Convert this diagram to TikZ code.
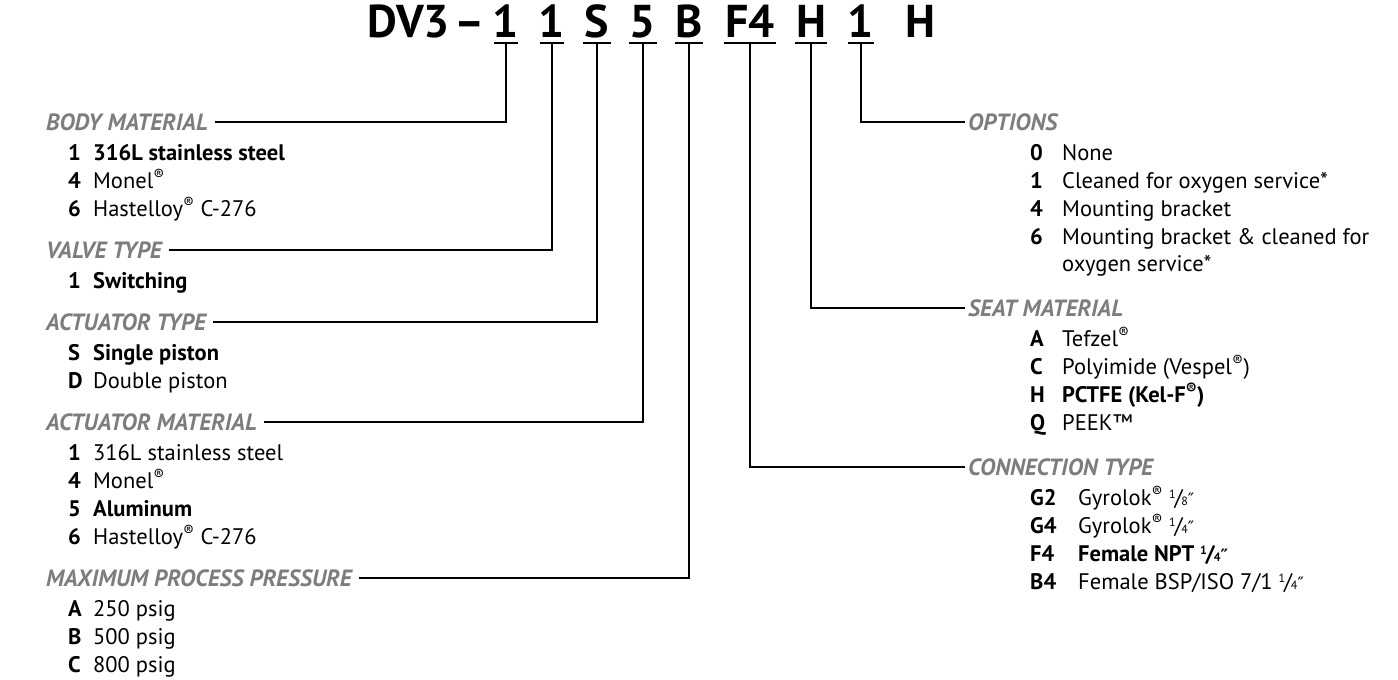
\documentclass[tikz,border=0pt]{standalone}
\usepackage{fontspec}
\setmainfont{PT Sans}
\newfontfamily\dvs{DejaVu Sans}
\definecolor{hgray}{RGB}{125,125,125}
\newcommand\rg{\textsuperscript{®}}
\newcommand\dpr{{\dvs\fontsize{17}{17}\selectfont ″}}
\newcommand\qtr{\raisebox{.55ex}{\fontsize{12}{12}\selectfont 1}\kern-.05em/\kern-.05em{\fontsize{12}{12}\selectfont 4}}
\newcommand\eig{\raisebox{.55ex}{\fontsize{12}{12}\selectfont 1}\kern-.05em/\kern-.05em{\fontsize{12}{12}\selectfont 8}}
\tikzset{
  conn/.style={line width=1.8pt, black},
  head/.style={font=\fontsize{23.5}{23.5}\selectfont\bfseries\itshape, text=hgray, anchor=base west, inner sep=0pt},
  item/.style={font=\fontsize{22.5}{22.5}\selectfont, anchor=base west, inner sep=0pt},
  ttl/.style={font=\fontsize{46}{46}\selectfont\bfseries, anchor=base, inner sep=0pt},
}
\newcommand\cd[2]{\makebox[#1][l]{\bfseries #2}}
\begin{document}
\begin{tikzpicture}[x=1pt,y=-1pt]
\useasboundingbox (0,0) rectangle (1398,680);
% title
\node[ttl, anchor=base east] (tdv) at (450,37) {DV3};
\node[ttl] (tda) at (470,37) {–};
\node[ttl] (t1) at (506,37) {1};
\node[ttl] (t2) at (552,37) {1};
\node[ttl] (t3) at (597,37) {S};
\node[ttl] (t4) at (643,37) {5};
\node[ttl] (t5) at (689,37) {B};
\node[ttl] (t6) at (750,37) {F4};
\node[ttl] (t7) at (811,37) {H};
\node[ttl] (t8) at (861,37) {1};
\node[ttl] (t9) at (920,37) {H};
\coordinate (u1) at (506,43);
\coordinate (u2) at (552,43);
\coordinate (u3) at (597,43);
\coordinate (u4) at (643,43);
\coordinate (u5) at (689,43);
\coordinate (u6) at (750,43);
\coordinate (u7) at (811,43);
\coordinate (u8) at (861,43);
\draw[conn] ([xshift=-12pt]u1) -- ([xshift=12pt]u1);
\draw[conn] ([xshift=-12pt]u2) -- ([xshift=12pt]u2);
\draw[conn] ([xshift=-14pt]u3) -- ([xshift=14pt]u3);
\draw[conn] ([xshift=-14pt]u4) -- ([xshift=14pt]u4);
\draw[conn] ([xshift=-14pt]u5) -- ([xshift=14pt]u5);
\draw[conn] ([xshift=-26pt]u6) -- ([xshift=26pt]u6);
\draw[conn] ([xshift=-16pt]u7) -- ([xshift=16pt]u7);
\draw[conn] ([xshift=-13pt]u8) -- ([xshift=13pt]u8);
% left column
\node[head] (hbody) at (46,130) {BODY MATERIAL};
\node[item] (b1) at (68,160) {\cd{25pt}{1}\bfseries 316L stainless steel};
\node[item] (b2) at (68,188) {\cd{25pt}{4}Monel\rg};
\node[item] (b3) at (68,216) {\cd{25pt}{6}Hastelloy\rg{} C-276};
\node[head] (hvalve) at (46,258) {VALVE TYPE};
\node[item] (v1) at (68,288) {\cd{25pt}{1}\bfseries Switching};
\node[head] (hact) at (46,330) {ACTUATOR TYPE};
\node[item] (a1) at (68,360) {\cd{25pt}{S}\bfseries Single piston};
\node[item] (a2) at (68,388) {\cd{25pt}{D}Double piston};
\node[head] (hmat) at (46,430) {ACTUATOR MATERIAL};
\node[item] (m1) at (68,460) {\cd{25pt}{1}316L stainless steel};
\node[item] (m2) at (68,488) {\cd{25pt}{4}Monel\rg};
\node[item] (m3) at (68,516) {\cd{25pt}{5}\bfseries Aluminum};
\node[item] (m4) at (68,544) {\cd{25pt}{6}Hastelloy\rg{} C-276};
\node[head] (hpr) at (46,586) {MAXIMUM PROCESS PRESSURE};
\node[item] (p1) at (68,616) {\cd{25pt}{A}250 psig};
\node[item] (p2) at (68,644) {\cd{25pt}{B}500 psig};
\node[item] (p3) at (68,672) {\cd{25pt}{C}800 psig};
% right column
\node[head] (hopt) at (968,130) {OPTIONS};
\node[item] (o1) at (1030,160) {\cd{32pt}{0}None};
\node[item] (o2) at (1030,188) {\cd{32pt}{1}Cleaned for oxygen service*};
\node[item] (o3) at (1030,216) {\cd{32pt}{4}Mounting bracket};
\node[item] (o4) at (1030,244) {\cd{32pt}{6}Mounting bracket \& cleaned for};
\node[item] (o5) at (1062,271) {oxygen service*};
\node[head] (hseat) at (968,316) {SEAT MATERIAL};
\node[item] (s1) at (1030,346) {\cd{32pt}{A}Tefzel\rg};
\node[item] (s2) at (1030,374) {\cd{32pt}{C}Polyimide (Vespel\rg)};
\node[item] (s3) at (1030,402) {\cd{32pt}{H}\bfseries PCTFE (Kel-F\rg)};
\node[item] (s4) at (1030,430) {\cd{32pt}{Q}PEEK™};
\node[head] (hcon) at (968,475) {CONNECTION TYPE};
\node[item] (c1) at (1030,505) {\cd{48pt}{G2}Gyrolok\rg{} \eig\dpr};
\node[item] (c2) at (1030,533) {\cd{48pt}{G4}Gyrolok\rg{} \qtr\dpr};
\node[item] (c3) at (1030,561) {\cd{48pt}{F4}\bfseries Female NPT \qtr\dpr};
\node[item] (c4) at (1030,589) {\cd{48pt}{B4}Female BSP/ISO 7/1 \qtr\dpr};
% connectors
\draw[conn] ([xshift=7pt]hbody.east) -| (u1);
\draw[conn] ([xshift=7pt]hvalve.east) -| (u2);
\draw[conn] ([xshift=7pt]hact.east) -| (u3);
\draw[conn] ([xshift=7pt]hmat.east) -| (u4);
\draw[conn] ([xshift=7pt]hpr.east) -| (u5);
\draw[conn] (u8) |- ([xshift=-3pt]hopt.west);
\draw[conn] (u7) |- ([xshift=-3pt]hseat.west);
\draw[conn] (u6) |- ([xshift=-3pt]hcon.west);
\end{tikzpicture}
\end{document}
